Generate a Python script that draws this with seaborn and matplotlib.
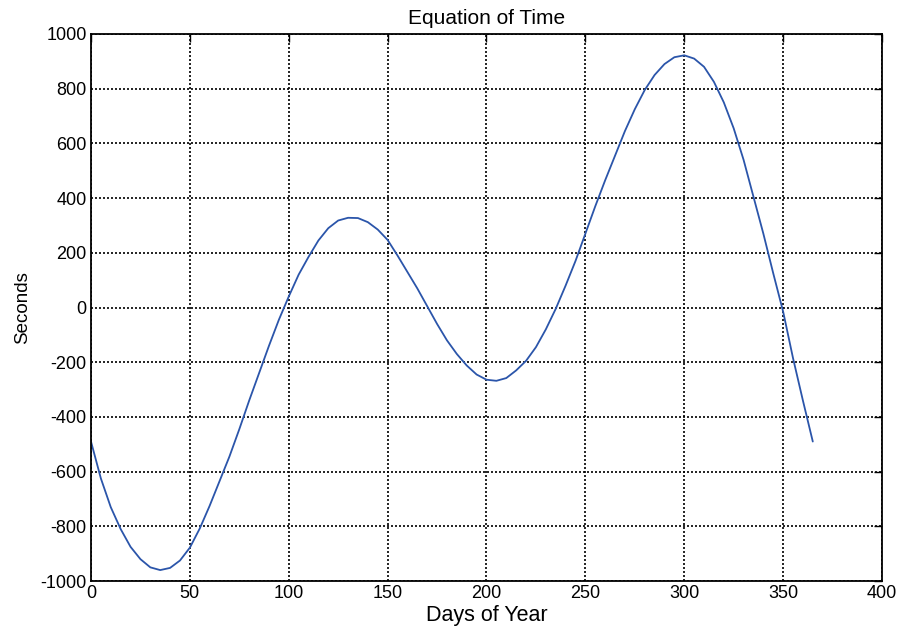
import matplotlib
matplotlib.use("Agg")
import matplotlib.pyplot as plt
import seaborn as sns
import pandas as pd

days = [0, 5, 10, 15, 20, 25, 30, 35, 40, 45, 50, 55, 60, 65, 70, 75, 80, 85, 90, 95,
        100, 105, 110, 115, 120, 125, 130, 135, 140, 145, 150, 155, 160, 165, 170, 175,
        180, 185, 190, 195, 200, 205, 210, 215, 220, 225, 230, 235, 240, 245, 250, 255,
        260, 265, 270, 275, 280, 285, 290, 295, 300, 305, 310, 315, 320, 325, 330, 335,
        340, 345, 350, 355, 360, 365]
seconds = [-490, -625, -730, -810, -875, -920, -950, -960, -952, -925, -878, -808,
           -725, -635, -545, -445, -340, -240, -140, -45,
           40, 120, 185, 245, 290, 318, 328, 327, 312, 285, 247, 190, 130, 70, 5, -60,
           -120, -170, -212, -245, -264, -268, -258, -230, -195, -145, -80, -5, 80, 170,
           270, 370, 465, 555, 645, 725, 795, 850, 890, 915, 922, 910, 880, 825, 750,
           655, 540, 405, 270, 125, -15, -185, -340, -490]
x_ticks = [0, 50, 100, 150, 200, 250, 300, 350, 400]
y_ticks = [-1000, -800, -600, -400, -200, 0, 200, 400, 600, 800, 1000]

sns.set_theme(style="white")
plt.rcParams['font.family'] = ['Liberation Sans', 'DejaVu Sans']
plt.rcParams['axes.unicode_minus'] = False
plt.rcParams['text.color'] = 'black'
plt.rcParams['axes.labelcolor'] = 'black'

df = pd.DataFrame({"day": days, "sec": seconds})

fig = plt.figure(figsize=(9.09, 6.28), dpi=100)
ax = fig.add_axes([0.1001, 0.0748, 0.8702, 0.8711])

sns.lineplot(data=df, x="day", y="sec", ax=ax, color="#2b55aa", linewidth=1.3)

ax.set_xlim(0, 400)
ax.set_ylim(-1000, 1000)
ax.set_xticks(x_ticks)
ax.set_yticks(y_ticks)
ax.grid(True, color="black", linestyle=(0, (1.2, 1.2)), linewidth=1.2)
for s in ax.spines.values():
    s.set_color("black")
    s.set_linewidth(1.3)
ax.tick_params(direction="in", length=6, width=1.0, top=True, right=True,
               labelsize=13, colors="black", pad=3)
ax.set_title("Equation of Time", fontsize=15, pad=7, color="black")
ax.set_xlabel("Days of Year", fontsize=15.5, labelpad=2, color="black")
ax.set_ylabel("Seconds", fontsize=13.5, labelpad=7, color="black")

fig.savefig("out.png", dpi=100, facecolor="white")
